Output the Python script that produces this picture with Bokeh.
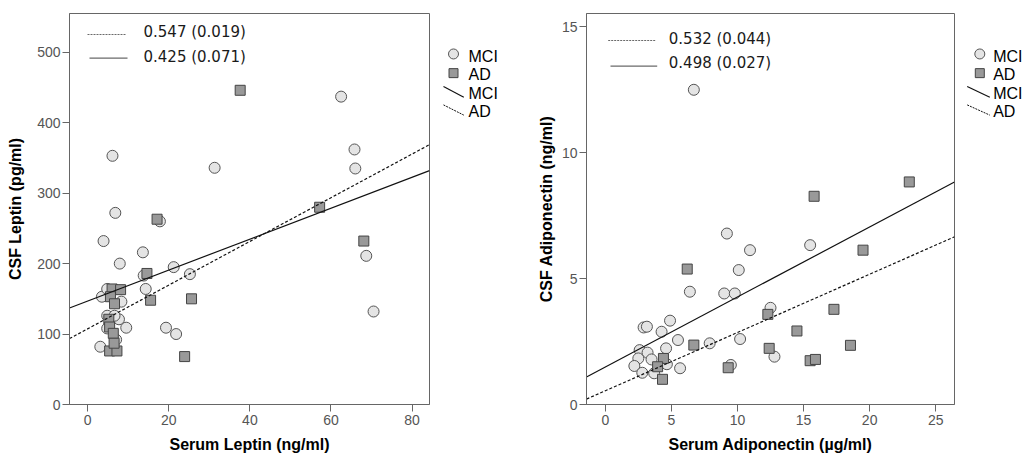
from bokeh.plotting import figure
from bokeh.layouts import row
from bokeh.models import Range1d, FixedTicker
from bokeh.core.properties import value
from bokeh.embed import file_html
from bokeh.resources import INLINE

# ---------------- data ----------------
# Left panel: Serum Leptin (ng/ml) vs CSF Leptin (pg/ml)
lep_mci_serum = [62.5, 6.1, 31.3, 65.8, 66.0, 6.8, 17.8, 3.9, 13.6, 7.9, 21.2, 25.2, 13.8, 14.3,
                 68.7, 70.5, 19.3, 21.8, 3.1, 9.5, 7.7, 4.8, 6.6, 4.8, 3.5, 4.8, 8.3, 7.0]
lep_mci_csf = [437, 353, 336, 362, 335, 272, 260, 232, 216, 200, 195, 185, 183, 164,
               211, 132, 109, 100, 82, 109, 121, 126, 126, 108, 153, 164, 146, 92]
lep_ad_serum = [37.6, 57.2, 17.1, 14.6, 15.5, 25.6, 68.1, 23.9, 5.4, 7.2, 5.2, 5.4, 6.3, 6.5,
                6.0, 8.1, 5.6, 6.6]
lep_ad_csf = [446, 280, 263, 186, 148, 150, 232, 68, 76, 76, 121, 110, 101, 87,
              164, 163, 153, 143]

# Right panel: Serum Adiponectin (ug/ml) vs CSF Adiponectin (ng/ml)
adi_mci_serum = [6.7, 9.2, 10.95, 15.5, 10.1, 6.4, 9.0, 9.8, 12.5, 4.9, 2.9, 3.15, 4.26, 5.5,
                 10.2, 7.9, 12.8, 9.5, 5.66, 4.6, 2.6, 3.2, 2.5, 3.5, 4.66, 2.2, 2.8, 3.7]
adi_mci_csf = [12.5, 6.79, 6.13, 6.33, 5.34, 4.48, 4.41, 4.41, 3.84, 3.33, 3.06, 3.09, 2.89, 2.56,
               2.6, 2.43, 1.9, 1.57, 1.44, 2.23, 2.16, 2.06, 1.83, 1.79, 1.6, 1.53, 1.26, 1.24]
adi_ad_serum = [15.8, 23.0, 19.5, 6.2, 12.3, 17.3, 14.5, 6.7, 12.4, 18.55, 15.5, 15.9, 9.3,
                4.4, 3.96, 4.33]
adi_ad_csf = [8.27, 8.84, 6.13, 5.38, 3.58, 3.78, 2.92, 2.36, 2.23, 2.35, 1.74, 1.79, 1.46,
              1.83, 1.5, 1.0]

# fit lines (intercept, slope): [MCI, AD]
lep_fit_intercept = [146.9, 107.5]
lep_fit_slope = [2.196, 3.10]
adi_fit_intercept = [1.49, 0.544]
adi_fit_slope = [0.278, 0.2315]

# correlation annotations (AD dotted first, MCI solid second)
lep_stats = ["0.547 (0.019)", "0.425 (0.071)"]
adi_stats = ["0.532 (0.044)", "0.498 (0.027)"]

legend_labels = ["MCI", "AD", "MCI", "AD"]

lep_xticks = [0, 20, 40, 60, 80]
lep_yticks = [0, 100, 200, 300, 400, 500]
adi_xticks = [0, 5, 10, 15, 20, 25]
adi_yticks = [0, 5, 10, 15]

H = 459
TOP = 13
BOT = 55

FONT = "Liberation Sans"


def make_panel(width, left_border, xr, yr, xticks, yticks, xlabel, ylabel, ylab_standoff):
    p = figure(width=width, height=H, x_range=Range1d(*xr), y_range=Range1d(*yr),
               min_border_left=left_border, min_border_right=3, min_border_top=TOP,
               min_border_bottom=BOT, output_backend="svg", toolbar_location=None)
    p.grid.visible = False
    p.outline_line_color = "#666666"
    p.background_fill_color = "white"
    p.xaxis.ticker = FixedTicker(ticks=xticks)
    p.yaxis.ticker = FixedTicker(ticks=yticks)
    p.xaxis.axis_label = xlabel
    p.yaxis.axis_label = ylabel
    for ax in (p.xaxis, p.yaxis):
        ax.axis_label_text_font = FONT
        ax.axis_label_text_font_style = "bold"
        ax.axis_label_text_font_size = "16px"
        ax.axis_label_text_color = "black"
        ax.major_label_text_font = FONT
        ax.major_label_text_font_size = "14px"
        ax.major_label_text_color = "#555555"
        ax.major_tick_out = 7
        ax.major_tick_in = 0
        ax.minor_tick_out = 0
        ax.minor_tick_in = 0
        ax.axis_line_color = "#666666"
        ax.major_tick_line_color = "#666666"
    p.xaxis.major_label_standoff = 3
    p.yaxis.major_label_standoff = 2
    p.xaxis.axis_label_standoff = 8
    p.yaxis.axis_label_standoff = ylab_standoff
    return p


def draw(p, mci_x, mci_y, ad_x, ad_y, intercepts, slopes, xr):
    p.scatter(mci_x, mci_y, marker="circle", size=11, fill_color="#e4e4e4",
              line_color="#555555", line_width=1)
    p.scatter(ad_x, ad_y, marker="square", size=10, fill_color="#999999",
              line_color="#444444", line_width=1)
    x0, x1 = xr
    p.line([x0, x1], [intercepts[0] + slopes[0] * x0, intercepts[0] + slopes[0] * x1],
           line_color="#111111", line_width=1.2)
    p.line([x0, x1], [intercepts[1] + slopes[1] * x0, intercepts[1] + slopes[1] * x1],
           line_color="#111111", line_width=1.2, line_dash="3 2")


def annot(p, xr, yr, frame_left, frame_w, frame_top, frame_h, stats, tx, ty, lines):
    def X(px):
        return xr[0] + (px - frame_left) / frame_w * (xr[1] - xr[0])

    def Y(py):
        return yr[1] - (py - frame_top) / frame_h * (yr[1] - yr[0])

    p.text(x=[X(tx), X(tx)], y=[Y(ty[0]), Y(ty[1])], text=stats,
           text_font=value("DejaVu Sans"), text_font_size="15px", text_color="#1a1a1a",
           text_baseline="middle", text_align="left")
    (a0, a1, ay), (b0, b1, by) = lines
    p.line([X(a0), X(a1)], [Y(ay), Y(ay)], line_color="#6a6a6a", line_width=1, line_dash="2 1")
    p.line([X(b0), X(b1)], [Y(by), Y(by)], line_color="#6a6a6a", line_width=1.2)


def legend_fig(width, x_origin, mx, tx, sx0, sx1):
    f = figure(width=width, height=H, x_range=Range1d(0, width), y_range=Range1d(H, 0),
               min_border=0, output_backend="svg", toolbar_location=None,
               x_axis_type=None, y_axis_type=None)
    f.grid.visible = False
    f.outline_line_color = None
    mx -= x_origin
    tx -= x_origin
    sx0 -= x_origin
    sx1 -= x_origin
    f.scatter([mx], [47.5], marker="circle", size=10, fill_color="#e4e4e4",
              line_color="#555555")
    f.scatter([mx], [70], marker="square", size=9, fill_color="#999999",
              line_color="#444444")
    f.segment([sx0], [85.7], [sx1], [98.3], line_color="#111111", line_width=1.2)
    f.segment([sx0], [107.3], [sx1], [119.3], line_color="#111111", line_width=1,
              line_dash="2 1")
    f.text(x=[tx] * 4, y=[50, 71.5, 93.5, 115.5], text=legend_labels,
           text_font=value(FONT), text_font_size="16px", text_color="black",
           text_baseline="middle", text_align="left")
    return f


# left panel: frame 69..429
lxr = (-4.5, 84.3)
lyr = (0, 555)
left = make_panel(432, 69, lxr, lyr, lep_xticks, lep_yticks,
                  "Serum Leptin (ng/ml)", "CSF Leptin (pg/ml)", 10)
draw(left, lep_mci_serum, lep_mci_csf, lep_ad_serum, lep_ad_csf,
     lep_fit_intercept, lep_fit_slope, lxr)
annot(left, lxr, lyr, 69, 360, TOP, H - TOP - BOT, lep_stats, 143, (31.7, 56.0),
      ((87, 125, 34), (89, 127, 57.7)))

# right panel: frame 586..954, figure starts at 526
R0 = 526
legL = legend_fig(R0 - 432, 432, 453, 468, 443, 463.3)

rxr = (-1.42, 26.42)
ryr = (0, 15.53)
right = make_panel(957 - R0, 586 - R0, rxr, ryr, adi_xticks, adi_yticks,
                   "Serum Adiponectin (µg/ml)", "CSF Adiponectin (ng/ml)", 4)
draw(right, adi_mci_serum, adi_mci_csf, adi_ad_serum, adi_ad_csf,
     adi_fit_intercept, adi_fit_slope, rxr)
annot(right, rxr, ryr, 586, 368, TOP, H - TOP - BOT, adi_stats, 668.3, (38.3, 62.2),
      ((607.7, 655, 40), (610, 656.7, 65.7)))
legR = legend_fig(1026 - 957, 957, 979.3, 992.7, 966.7, 989.3)

layout = row(left, legL, right, legR, spacing=0)
open("out.html", "w").write(file_html(layout, INLINE))
